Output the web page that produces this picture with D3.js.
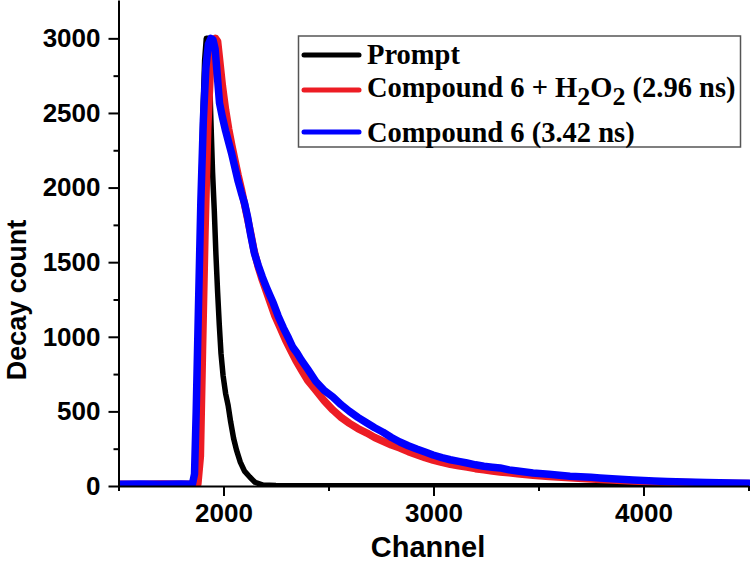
<!DOCTYPE html>
<html>
<head>
<meta charset="utf-8">
<script src="https://cdn.jsdelivr.net/npm/d3@7"></script>
<style>
  html, body { margin: 0; padding: 0; background: #fff; }
  svg { display: block; }
</style>
</head>
<body>
<svg id="chart" width="750" height="563"></svg>
<script>
// ---------- DATA (channel, decay count) ----------
const xMajorTicks = [2000, 3000, 4000];
const xMinorTicks = [1500, 2500, 3500, 4500];
const yMajorTicks = [0, 500, 1000, 1500, 2000, 2500, 3000];
const yMinorTicks = [250, 750, 1250, 1750, 2250, 2750];

const seriesNames = ["Prompt", "Compound 6 + H2O2 (2.96 ns)", "Compound 6 (3.42 ns)"];
const seriesColors = ["#000000", "#ed1c24", "#0000ff"];

const promptData = [
  [1500, 3], [1700, 3], [1850, 3], [1862, 40], [1872, 500], [1882, 1200], [1892, 1900],
  [1902, 2500], [1910, 2850], [1918, 3000], [1926, 3000], [1932, 2820], [1940, 2450],
  [1948, 2100], [1956, 1850], [1964, 1550], [1972, 1300], [1980, 1080], [1988, 890],
  [1998, 740], [2010, 620], [2022, 540], [2034, 430], [2048, 320], [2062, 240],
  [2080, 160], [2100, 100], [2125, 60], [2150, 25], [2188, 6], [2250, 3],
  [3000, 2], [4500, 2]
];

const compoundH2O2Data = [
  [1500, 12], [1600, 10], [1700, 13], [1800, 11], [1878, 14], [1890, 200], [1900, 900],
  [1912, 1700], [1925, 2400], [1938, 2800], [1950, 2970], [1962, 3000], [1972, 2980],
  [1982, 2850], [1995, 2680], [2010, 2520], [2025, 2390], [2040, 2280], [2055, 2180],
  [2070, 2080], [2085, 1990], [2100, 1890], [2115, 1790], [2130, 1690], [2145, 1580],
  [2165, 1470], [2185, 1380], [2205, 1300], [2225, 1220], [2245, 1140], [2270, 1060],
  [2295, 980], [2320, 910], [2345, 840], [2370, 780], [2400, 710], [2440, 640],
  [2480, 570], [2521, 509], [2560, 460], [2600, 420], [2640, 385], [2683, 355],
  [2720, 325], [2760, 300], [2800, 275], [2840, 255], [2880, 230], [2920, 210],
  [2960, 190], [2998, 174], [3040, 158], [3080, 145], [3120, 136], [3160, 127],
  [3200, 116], [3240, 108], [3280, 100], [3317, 94], [3360, 88], [3400, 82],
  [3474, 72], [3550, 64], [3650, 55], [3750, 47], [3850, 40], [3950, 34],
  [4050, 29], [4150, 25], [4250, 22], [4350, 19], [4450, 17], [4500, 16]
];

const compoundData = [
  [1500, 12], [1600, 14], [1700, 11], [1800, 13], [1852, 12], [1862, 80], [1870, 500],
  [1880, 1150], [1892, 1900], [1904, 2450], [1916, 2800], [1928, 2960], [1940, 3000],
  [1950, 2990], [1960, 2930], [1970, 2760], [1981, 2567], [1995, 2470], [2010, 2380],
  [2025, 2300], [2038, 2232], [2055, 2130], [2070, 2040], [2085, 1965], [2100, 1896],
  [2115, 1800], [2130, 1680], [2147, 1561], [2165, 1480], [2185, 1400], [2205, 1330],
  [2220, 1280], [2237, 1226], [2260, 1140], [2285, 1060], [2310, 990], [2330, 930],
  [2350, 891], [2370, 845], [2400, 785], [2440, 700], [2480, 640], [2521, 597],
  [2560, 545], [2600, 500], [2640, 460], [2683, 422], [2720, 390], [2760, 360],
  [2800, 325], [2840, 295], [2880, 270], [2920, 248], [2960, 228], [2998, 208],
  [3040, 190], [3080, 176], [3120, 165], [3160, 154], [3200, 142], [3240, 132],
  [3280, 126], [3317, 121], [3360, 108], [3400, 100], [3474, 87], [3550, 78],
  [3650, 66], [3750, 58], [3793, 54], [3850, 48], [3950, 40], [4050, 34],
  [4112, 30], [4200, 26], [4300, 23], [4426, 20], [4500, 19]
];

const allSeries = [promptData, compoundH2O2Data, compoundData];
const strokeWidths = [5.5, 7.5, 7.5];

// ---------- SCALES ----------
const svg = d3.select("#chart");
const x = d3.scaleLinear().domain([1500, 4500]).range([118.5, 748.5]);
const y = d3.scaleLinear().domain([0, 3257]).range([486, 0]);

// clip
svg.append("defs").append("clipPath").attr("id", "plotclip")
  .append("rect").attr("x", x(1500)).attr("y", 0)
  .attr("width", x(4500) - x(1500) + 2).attr("height", y(0) + 1);

// ---------- SERIES ----------
const line = d3.line().x(d => x(d[0])).y(d => y(d[1]));
const plot = svg.append("g").attr("clip-path", "url(#plotclip)");
allSeries.forEach((data, i) => {
  plot.append("path")
    .datum(data)
    .attr("d", line)
    .attr("fill", "none")
    .attr("stroke", seriesColors[i])
    .attr("stroke-width", strokeWidths[i])
    .attr("stroke-linejoin", "round")
    .attr("stroke-linecap", "round");
});

// ---------- AXES ----------
const tickFont = "'Liberation Sans', Arial, sans-serif";

svg.append("g").attr("transform", `translate(0,${y(0)})`)
  .call(d3.axisBottom(x).tickValues(xMajorTicks).tickSize(10).tickSizeOuter(0).tickPadding(8).tickFormat(d3.format("d")));
svg.append("g").attr("transform", `translate(0,${y(0)})`)
  .call(d3.axisBottom(x).tickValues(xMinorTicks).tickSize(5).tickSizeOuter(0).tickFormat(""))
  .select(".domain").remove();

svg.append("g").attr("transform", `translate(${x(1500)},0)`)
  .call(d3.axisLeft(y).tickValues(yMajorTicks).tickSize(10).tickSizeOuter(0).tickPadding(8).tickFormat(d3.format("d")));
svg.append("g").attr("transform", `translate(${x(1500)},0)`)
  .call(d3.axisLeft(y).tickValues(yMinorTicks).tickSize(5).tickSizeOuter(0).tickFormat(""))
  .select(".domain").remove();

svg.selectAll(".domain, .tick line").attr("stroke", "#000").attr("stroke-width", 2);
svg.selectAll(".tick text")
  .attr("font-family", tickFont).attr("font-weight", "bold")
  .attr("font-size", 26).attr("fill", "#000");

// axis titles
svg.append("text")
  .attr("x", 428).attr("y", 557)
  .attr("text-anchor", "middle")
  .attr("font-family", tickFont).attr("font-weight", "bold").attr("font-size", 29)
  .text("Channel");

svg.append("text")
  .attr("transform", "translate(26,300) rotate(-90)")
  .attr("text-anchor", "middle")
  .attr("font-family", tickFont).attr("font-weight", "bold").attr("font-size", 27)
  .text("Decay count");

// ---------- LEGEND ----------
const legendFont = "'Liberation Serif', 'Times New Roman', serif";
const lg = svg.append("g");
lg.append("rect")
  .attr("x", 298.5).attr("y", 36).attr("width", 442).attr("height", 111)
  .attr("fill", "#fff").attr("stroke", "#555").attr("stroke-width", 1.5);

const legendLineY = [55, 90, 132];
const legendTextY = [64, 97, 142];
legendLineY.forEach((ly, i) => {
  lg.append("line").attr("x1", 304).attr("x2", 359).attr("y1", ly).attr("y2", ly)
    .attr("stroke", seriesColors[i]).attr("stroke-width", 5).attr("stroke-linecap", "round");
});

const legendSize = 28.5;
lg.append("text").attr("x", 367).attr("y", legendTextY[0])
  .attr("font-family", legendFont).attr("font-weight", "bold").attr("font-size", legendSize).text("Prompt");

const t1 = lg.append("text").attr("x", 367).attr("y", legendTextY[1])
  .attr("font-family", legendFont).attr("font-weight", "bold").attr("font-size", legendSize);
t1.append("tspan").text("Compound 6 + H");
t1.append("tspan").attr("dy", 8).attr("font-size", 26).text("2");
t1.append("tspan").attr("dy", -8).text("O");
t1.append("tspan").attr("dy", 8).attr("font-size", 26).text("2");
t1.append("tspan").attr("dy", -8).text(" (2.96 ns)");

lg.append("text").attr("x", 367).attr("y", legendTextY[2])
  .attr("font-family", legendFont).attr("font-weight", "bold").attr("font-size", legendSize)
  .text("Compound 6 (3.42 ns)");
</script>
</body>
</html>
